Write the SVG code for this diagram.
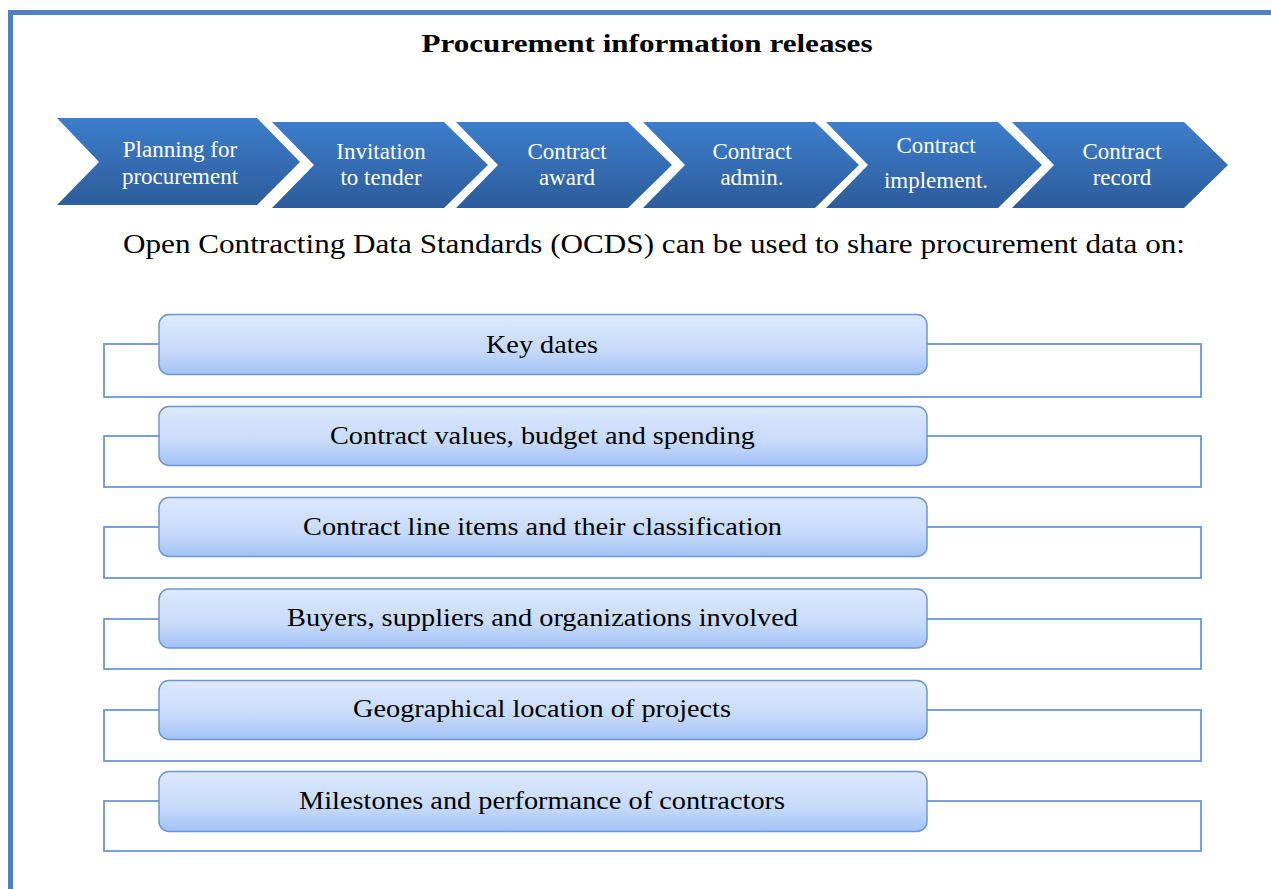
<svg xmlns="http://www.w3.org/2000/svg" width="1271" height="889" viewBox="0 0 1271 889">
<defs>
<linearGradient id="chev" x1="0" y1="0" x2="0" y2="1">
<stop offset="0" stop-color="#3D7ECC"/>
<stop offset="1" stop-color="#2D5C9B"/>
</linearGradient>
<linearGradient id="box" x1="0" y1="0" x2="0" y2="1">
<stop offset="0" stop-color="#DDE9FD"/>
<stop offset="0.6" stop-color="#C6DAFA"/>
<stop offset="1" stop-color="#A2C2F6"/>
</linearGradient>
</defs>
<style>
.chev{fill:url(#chev);}
.ct{font-family:"Liberation Serif","Times New Roman",serif;font-size:23px;fill:#FFFFFF;text-anchor:middle;}
.box{fill:url(#box);stroke:#6C97D3;stroke-width:1.5;}
.bt{font-family:"Liberation Serif","Times New Roman",serif;font-size:26px;fill:#000000;text-anchor:middle;}
.br{fill:none;stroke:#6C97D3;stroke-width:1.8;}
</style>
<rect x="0" y="0" width="1271" height="889" fill="#FFFFFF"/>
<path d="M10.5,889 L10.5,12.5 L1271,12.5" fill="none" stroke="#4F81BD" stroke-width="5"/>
<text x="647" y="52" font-family="Liberation Serif, Times New Roman, serif" font-size="26" font-weight="bold" text-anchor="middle" textLength="451" lengthAdjust="spacingAndGlyphs">Procurement information releases</text>

<g id="chevron1"><path class="chev" d="M57,118 L257,118 L300,162 L257,205 L57,205 L99,162 Z"/><text class="ct" x="180" y="157">Planning for</text><text class="ct" x="180" y="184">procurement</text></g>
<g id="chevron2"><path class="chev" d="M272,122 L444,122 L488,165 L444,208 L272,208 L314,165 Z"/><text class="ct" x="381" y="159">Invitation</text><text class="ct" x="381" y="185">to tender</text></g>
<g id="chevron3"><path class="chev" d="M456,122 L628,122 L672,165 L628,208 L456,208 L498,165 Z"/><text class="ct" x="567" y="159">Contract</text><text class="ct" x="567" y="185">award</text></g>
<g id="chevron4"><path class="chev" d="M643,122 L815,122 L859,165 L815,208 L643,208 L685,165 Z"/><text class="ct" x="752" y="159">Contract</text><text class="ct" x="752" y="185">admin.</text></g>
<g id="chevron5"><path class="chev" d="M826,122 L998,122 L1042,165 L998,208 L826,208 L868,165 Z"/><text class="ct" x="936" y="153">Contract</text><text class="ct" x="936" y="188">implement.</text></g>
<g id="chevron6"><path class="chev" d="M1012,122 L1184,122 L1228,165 L1184,208 L1012,208 L1054,165 Z"/><text class="ct" x="1122" y="159">Contract</text><text class="ct" x="1122" y="185">record</text></g>

<text x="654" y="253" font-family="Liberation Serif, Times New Roman, serif" font-size="28" text-anchor="middle" textLength="1062" lengthAdjust="spacingAndGlyphs">Open Contracting Data Standards (OCDS) can be used to share procurement data on:</text>

<g id="connectors">
<rect class="br" x="104" y="344" width="1097" height="53"/>
<rect class="br" x="104" y="436" width="1097" height="51"/>
<rect class="br" x="104" y="527" width="1097" height="51"/>
<rect class="br" x="104" y="619" width="1097" height="50"/>
<rect class="br" x="104" y="710" width="1097" height="51"/>
<rect class="br" x="104" y="801" width="1097" height="50"/>
</g>

<g id="item1"><rect class="box" x="159" y="314.5" width="768" height="60" rx="10"/><text class="bt" x="542" y="353" textLength="112" lengthAdjust="spacingAndGlyphs">Key dates</text></g>
<g id="item2"><rect class="box" x="159" y="406.5" width="768" height="59" rx="10"/><text class="bt" x="542.5" y="444" textLength="425" lengthAdjust="spacingAndGlyphs">Contract values, budget and spending</text></g>
<g id="item3"><rect class="box" x="159" y="497.5" width="768" height="59" rx="10"/><text class="bt" x="542.5" y="535" textLength="479" lengthAdjust="spacingAndGlyphs">Contract line items and their classification</text></g>
<g id="item4"><rect class="box" x="159" y="589" width="768" height="59" rx="10"/><text class="bt" x="542.5" y="626" textLength="511" lengthAdjust="spacingAndGlyphs">Buyers, suppliers and organizations involved</text></g>
<g id="item5"><rect class="box" x="159" y="680.5" width="768" height="59" rx="10"/><text class="bt" x="542" y="717" textLength="378" lengthAdjust="spacingAndGlyphs">Geographical location of projects</text></g>
<g id="item6"><rect class="box" x="159" y="771.5" width="768" height="60" rx="10"/><text class="bt" x="542" y="809" textLength="486" lengthAdjust="spacingAndGlyphs">Milestones and performance of contractors</text></g>
</svg>
